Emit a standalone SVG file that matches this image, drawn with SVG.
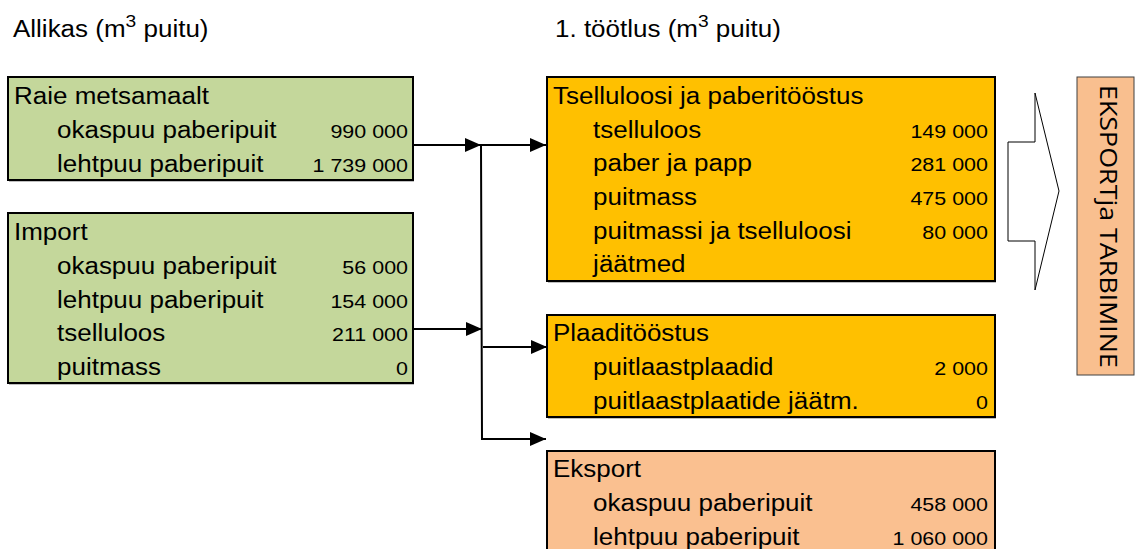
<svg xmlns="http://www.w3.org/2000/svg" width="1142" height="549" viewBox="0 0 1142 549">
<style>
  text { font-family: "Liberation Sans", Arial, sans-serif; fill: #000; }
  .t { font-size: 23px; transform-box: fill-box; transform-origin: 0 0; transform: scaleX(1.13); }
  .v { font-size: 19px; text-anchor: end; transform-box: fill-box; transform-origin: 100% 0; transform: scaleX(1.13); }
  .sup { font-size: 17px; }
  .green { fill: #C4D79B; stroke: #000; stroke-width: 2; }
  .orange { fill: #FFC000; stroke: #000; stroke-width: 2; }
  .salmon { fill: #FAC090; stroke: #000; stroke-width: 2; }
  .shadow { fill: #BFBFBF; }
  .con { stroke: #000; stroke-width: 2; fill: none; }
  .ek { font-family: "Open Sans", "Noto Sans", sans-serif; font-size: 24px; }
</style>
<defs>
  <marker id="ah" viewBox="0 0 16 14" refX="16" refY="7" markerWidth="16" markerHeight="14" markerUnits="userSpaceOnUse" orient="auto">
    <path d="M0,0 L16,7 L0,14 z" fill="#000"/>
  </marker>
</defs>

<g id="titles">
  <text class="t" x="13" y="37">Allikas (m<tspan class="sup" dy="-10">3</tspan><tspan dy="10"> puitu)</tspan></text>
  <text class="t" x="555" y="37">1. töötlus (m<tspan class="sup" dy="-10">3</tspan><tspan dy="10"> puitu)</tspan></text>
</g>

<g id="raie">
  <rect class="shadow" x="9" y="79" width="405" height="103"/>
  <rect class="green" x="8" y="77" width="405" height="103"/>
  <text class="t" x="14" y="104">Raie metsamaalt</text>
  <text class="t" x="57" y="138">okaspuu paberipuit</text>
  <text class="v" x="408" y="138">990 000</text>
  <text class="t" x="57" y="172">lehtpuu paberipuit</text>
  <text class="v" x="408" y="172">1 739 000</text>
</g>

<g id="import">
  <rect class="shadow" x="9" y="215" width="405" height="170"/>
  <rect class="green" x="8" y="213" width="405" height="170"/>
  <text class="t" x="14" y="240">Import</text>
  <text class="t" x="57" y="274">okaspuu paberipuit</text>
  <text class="v" x="408" y="274">56 000</text>
  <text class="t" x="57" y="308">lehtpuu paberipuit</text>
  <text class="v" x="408" y="308">154 000</text>
  <text class="t" x="57" y="341">tselluloos</text>
  <text class="v" x="408" y="341">211 000</text>
  <text class="t" x="57" y="375">puitmass</text>
  <text class="v" x="408" y="375">0</text>
</g>

<g id="tselluloos">
  <rect class="shadow" x="548" y="79" width="448" height="204"/>
  <rect class="orange" x="547" y="77" width="448" height="204"/>
  <text class="t" x="553" y="104">Tselluloosi ja paberitööstus</text>
  <text class="t" x="593" y="138">tselluloos</text>
  <text class="v" x="988" y="138">149 000</text>
  <text class="t" x="593" y="171">paber ja papp</text>
  <text class="v" x="988" y="171">281 000</text>
  <text class="t" x="593" y="205">puitmass</text>
  <text class="v" x="988" y="205">475 000</text>
  <text class="t" x="593" y="239">puitmassi ja tselluloosi</text>
  <text class="v" x="988" y="239">80 000</text>
  <text class="t" x="593" y="272">jäätmed</text>
</g>

<g id="plaadi">
  <rect class="shadow" x="548" y="317" width="448" height="102"/>
  <rect class="orange" x="547" y="315" width="448" height="102"/>
  <text class="t" x="553" y="341">Plaaditööstus</text>
  <text class="t" x="593" y="375">puitlaastplaadid</text>
  <text class="v" x="988" y="375">2 000</text>
  <text class="t" x="593" y="409">puitlaastplaatide jäätm.</text>
  <text class="v" x="988" y="409">0</text>
</g>

<g id="eksport">
  <rect class="salmon" x="547" y="451" width="448" height="110"/>
  <text class="t" x="553" y="477">Eksport</text>
  <text class="t" x="593" y="511">okaspuu paberipuit</text>
  <text class="v" x="988" y="511">458 000</text>
  <text class="t" x="593" y="545">lehtpuu paberipuit</text>
  <text class="v" x="988" y="545">1 060 000</text>
</g>

<g id="connectors">
  <line class="con" x1="414" y1="145" x2="481" y2="145" marker-end="url(#ah)"/>
  <line class="con" x1="414" y1="329" x2="482" y2="329" marker-end="url(#ah)"/>
  <polyline class="con" points="481,145 482,439 546,439" marker-end="url(#ah)"/>
  <line class="con" x1="481" y1="145" x2="546" y2="145" marker-end="url(#ah)"/>
  <line class="con" x1="483" y1="347" x2="547" y2="347" marker-end="url(#ah)"/>
</g>

<g id="bigarrow">
  <polygon points="1008,142 1035,142 1035,93 1059,191 1035,290 1035,241 1008,241" fill="#fff" stroke="#000" stroke-width="1"/>
</g>

<g id="eksport-tarbimine">
  <rect x="1077" y="77" width="57" height="298" fill="#F9BF8F" stroke="#404040" stroke-width="1"/>
  <text class="ek" transform="translate(1100,85) rotate(90)" x="0" y="0" textLength="283" lengthAdjust="spacingAndGlyphs">EKSPORTja TARBIMINE</text>
</g>
</svg>
